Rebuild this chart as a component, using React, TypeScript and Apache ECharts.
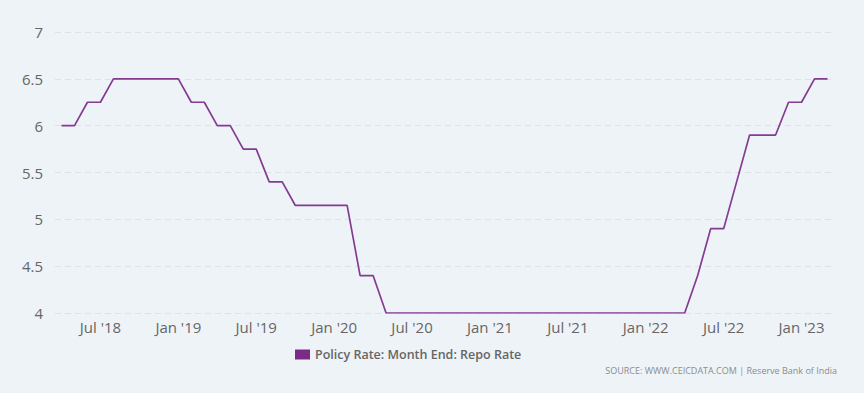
import React, { useEffect, useRef } from "react";
import * as echarts from "echarts";

const categories: string[] = [
  "Apr '18", "May '18", "Jun '18", "Jul '18", "Aug '18", "Sep '18", "Oct '18", "Nov '18", "Dec '18",
  "Jan '19", "Feb '19", "Mar '19", "Apr '19", "May '19", "Jun '19", "Jul '19", "Aug '19", "Sep '19", "Oct '19", "Nov '19", "Dec '19",
  "Jan '20", "Feb '20", "Mar '20", "Apr '20", "May '20", "Jun '20", "Jul '20", "Aug '20", "Sep '20", "Oct '20", "Nov '20", "Dec '20",
  "Jan '21", "Feb '21", "Mar '21", "Apr '21", "May '21", "Jun '21", "Jul '21", "Aug '21", "Sep '21", "Oct '21", "Nov '21", "Dec '21",
  "Jan '22", "Feb '22", "Mar '22", "Apr '22", "May '22", "Jun '22", "Jul '22", "Aug '22", "Sep '22", "Oct '22", "Nov '22", "Dec '22",
  "Jan '23", "Feb '23", "Mar '23",
];

const repoRate: number[] = [
  6.0, 6.0, 6.25, 6.25, 6.5, 6.5, 6.5, 6.5, 6.5,
  6.5, 6.25, 6.25, 6.0, 6.0, 5.75, 5.75, 5.4, 5.4, 5.15, 5.15, 5.15,
  5.15, 5.15, 4.4, 4.4, 4.0, 4.0, 4.0, 4.0, 4.0, 4.0, 4.0, 4.0,
  4.0, 4.0, 4.0, 4.0, 4.0, 4.0, 4.0, 4.0, 4.0, 4.0, 4.0, 4.0,
  4.0, 4.0, 4.0, 4.0, 4.4, 4.9, 4.9, 5.4, 5.9, 5.9, 5.9, 6.25,
  6.25, 6.5, 6.5,
];

const seriesName = "Policy Rate: Month End: Repo Rate";
const sourceText = "SOURCE: WWW.CEICDATA.COM | Reserve Bank of India";
const yTicks = { min: 4, max: 7, interval: 0.5 };

const FONT = "'Open Sans', 'Noto Sans', sans-serif";

export default function App() {
  const ref = useRef<HTMLDivElement>(null);

  useEffect(() => {
    document.body.style.margin = "0";
    document.body.style.background = "#eef3f8";
    if (!ref.current) return;
    const chart = echarts.init(ref.current, null, { renderer: "svg" });
    chart.setOption({
      animation: false,
      backgroundColor: "#eef3f8",
      textStyle: { fontFamily: FONT },
      grid: { left: 55, right: 30, top: 32, bottom: 80, containLabel: false },
      legend: {
        data: [seriesName],
        top: 348,
        left: 295,
        padding: 0,
        itemWidth: 15,
        itemHeight: 10,
        itemGap: 4,
        icon: "rect",
        textStyle: { color: "#666666", fontSize: 12.5, fontWeight: 600, fontFamily: FONT },
      },
      xAxis: {
        type: "category",
        data: categories,
        boundaryGap: true,
        axisLine: { show: false },
        axisTick: { show: false },
        axisLabel: {
          color: "#666666",
          fontSize: 15,
          fontFamily: FONT,
          margin: 6,
          interval: (_i: number, v: string) => v.startsWith("Jul") || v.startsWith("Jan"),
        },
        splitLine: { show: false },
      },
      yAxis: {
        type: "value",
        min: yTicks.min,
        max: yTicks.max,
        interval: yTicks.interval,
        axisLine: { show: false },
        axisTick: { show: false },
        axisLabel: { color: "#666666", fontSize: 15, fontFamily: FONT, margin: 12 },
        splitLine: { lineStyle: { color: "#dde2e8", type: [6, 4], width: 1 } },
      },
      series: [
        {
          name: seriesName,
          type: "line",
          data: repoRate,
          color: "#7b2a86",
          showSymbol: false,
          symbol: "none",
          lineStyle: { color: "#843c92", width: 1.7 },
        },
      ],
      graphic: [
        {
          type: "text",
          right: 27,
          top: 366,
          style: { text: sourceText, fill: "#8c8c8c", fontSize: 9, fontFamily: FONT },
        },
      ],
    });
    return () => chart.dispose();
  }, []);

  return (
    <div
      ref={ref}
      style={{ position: "fixed", left: 0, top: 0, width: 864, height: 393, background: "#eef3f8" }}
    />
  );
}
